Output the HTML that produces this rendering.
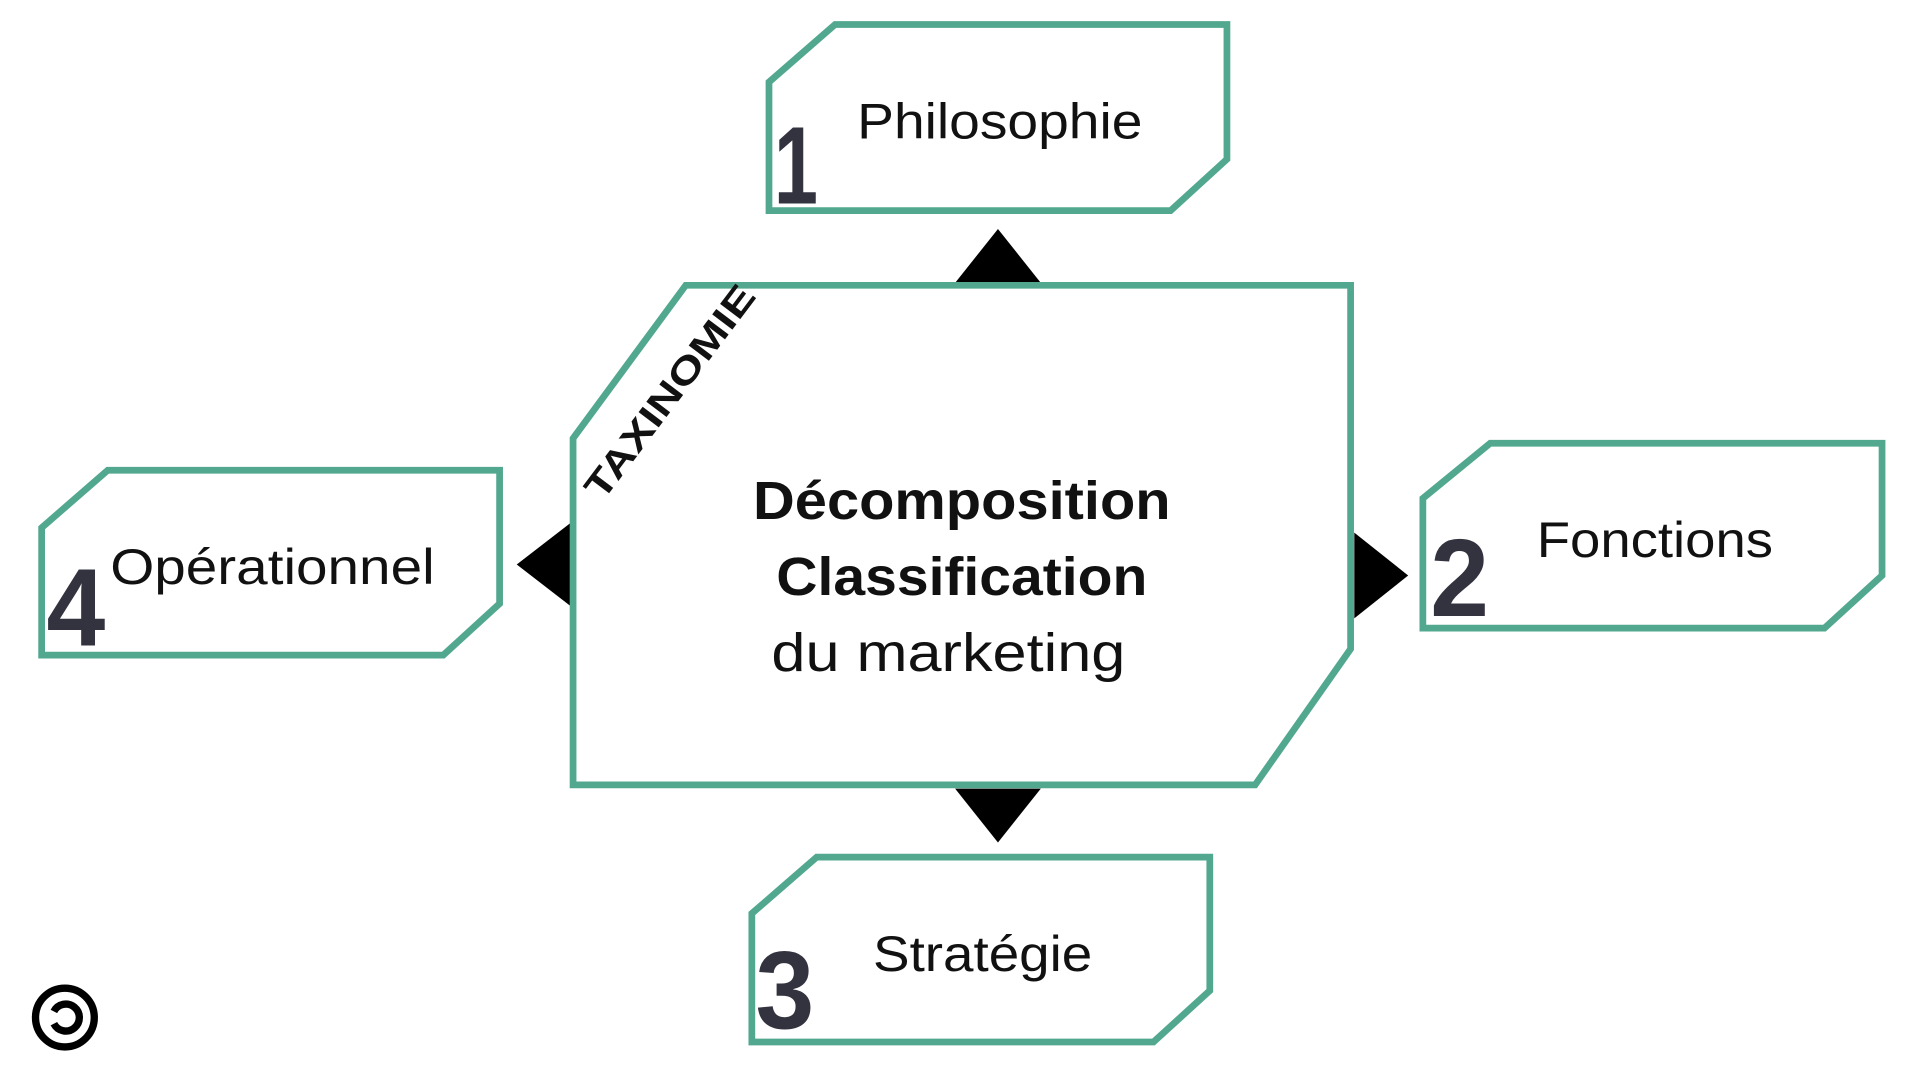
<!DOCTYPE html>
<html><head><meta charset="utf-8"><style>
html,body{margin:0;padding:0;background:#fff;width:1920px;height:1080px;overflow:hidden}
svg{display:block}
text{font-family:"Liberation Sans","DejaVu Sans",sans-serif}
</style></head><body>
<svg width="1920" height="1080" viewBox="0 0 1568 882" preserveAspectRatio="none" xmlns="http://www.w3.org/2000/svg">
<g fill="#fff" stroke="#52a88e" stroke-width="5.5">
<polygon points="628,67 682,20 1002,20 1002,130 956,172 628,172"/>
<polygon points="1162,407 1217,362 1537,362 1537,470 1490,513 1162,513"/>
<polygon points="34,431 88,384 408,384 408,493 362,535 34,535"/>
<polygon points="614,746 667,700 988,700 988,809 942,851 614,851"/>
</g>
<g fill="#000">
<polygon points="780,231 815,187 850,231"/>
<polygon points="780,644 815,688 850,644"/>
<polygon points="1106,435 1150,470 1106,505"/>
<polygon points="466,427 422,461 466,495"/>
</g>
<polygon points="468,358 560,233 1103,233 1103,530 1025,641 468,641" fill="#fff" stroke="#52a88e" stroke-width="5.5"/>
<g fill="#333340" font-weight="bold" font-size="90">
<text x="632" y="166" textLength="36" lengthAdjust="spacingAndGlyphs">1</text>
<text x="1168" y="503" textLength="48" lengthAdjust="spacingAndGlyphs">2</text>
<text x="617" y="840" textLength="48" lengthAdjust="spacingAndGlyphs">3</text>
<text x="38" y="527" textLength="48" lengthAdjust="spacingAndGlyphs">4</text>
</g>
<g fill="#111" font-size="41">
<text x="700" y="113" textLength="233" lengthAdjust="spacingAndGlyphs">Philosophie</text>
<text x="1255" y="455" textLength="193" lengthAdjust="spacingAndGlyphs">Fonctions</text>
<text x="713" y="793" textLength="179" lengthAdjust="spacingAndGlyphs">Stratégie</text>
<text x="90" y="477" textLength="265" lengthAdjust="spacingAndGlyphs">Opérationnel</text>
</g>
<g fill="#111" font-size="44">
<text x="615" y="424" font-weight="bold" textLength="341" lengthAdjust="spacingAndGlyphs">Décomposition</text>
<text x="634" y="486" font-weight="bold" textLength="303" lengthAdjust="spacingAndGlyphs">Classification</text>
<text x="630" y="548" textLength="289" lengthAdjust="spacingAndGlyphs">du marketing</text>
</g>
<text x="0" y="0" font-size="30" font-weight="bold" fill="#111" transform="translate(492,410) rotate(-53)" textLength="210" lengthAdjust="spacingAndGlyphs">TAXINOMIE</text>
<circle cx="53" cy="831" r="24" fill="#fff" stroke="#000" stroke-width="6"/>
<path d="M44,826 A11,11 0 1 1 44,836" fill="none" stroke="#000" stroke-width="6"/>
</svg>
</body></html>
